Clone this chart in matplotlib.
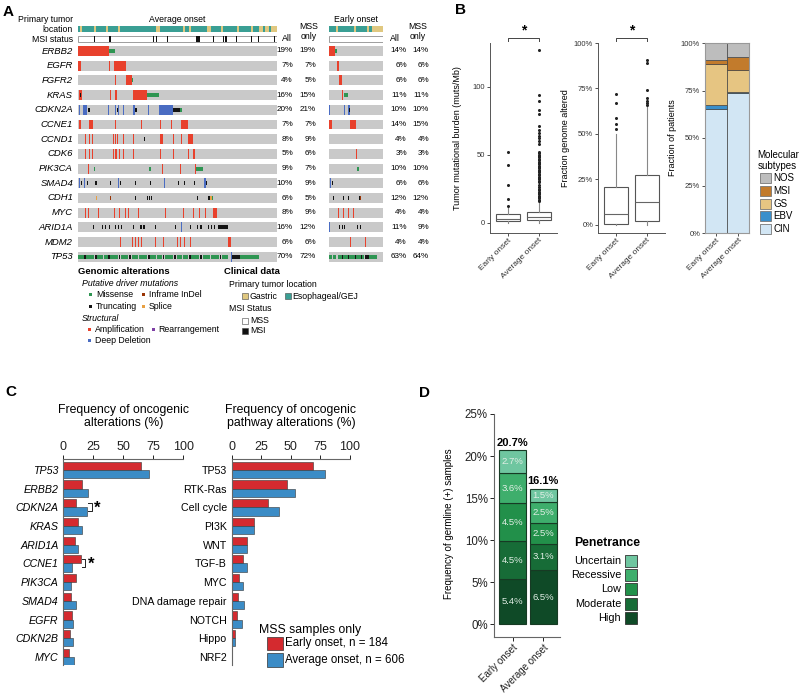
import matplotlib
matplotlib.use('Agg')
import matplotlib.pyplot as plt
from matplotlib.patches import Rectangle
import matplotlib.transforms as mtransforms
import numpy as np

plt.rcParams['font.family'] = ['Liberation Sans', 'DejaVu Sans']

# ---------------- data: panel A (oncoprint, positions in % of cohort) -------------
GENES = ['ERBB2', 'EGFR', 'FGFR2', 'KRAS', 'CDKN2A', 'CCNE1', 'CCND1', 'CDK6',
         'PIK3CA', 'SMAD4', 'CDH1', 'MYC', 'ARID1A', 'MDM2', 'TP53']
AVG_ALL = [19, 7, 4, 16, 20, 7, 8, 5, 9, 10, 6, 8, 16, 6, 70]
AVG_MSS = [19, 7, 5, 15, 21, 7, 9, 6, 7, 9, 5, 9, 12, 6, 72]
EARLY_ALL = [14, 6, 6, 11, 10, 14, 4, 3, 10, 6, 12, 4, 11, 4, 63]
EARLY_MSS = [14, 6, 6, 11, 10, 15, 4, 3, 10, 6, 12, 4, 9, 4, 64]

# E = esophageal/GEJ, G = gastric (one char per 1% of cohort)
LOC_AVG = ("EGEEEEEEGE" "EEEEGEEEEE" "GEEEEEEEEE" "EEEEEEEEEG" "GEEEEEEEEE"
           "EEEGEEGEEE" "EEEEEGGEEE" "EEGEEEEEEE" "GEEEEEEGEE" "EGGEGGEGGG")
LOC_EARLY = "EEEEGEEEEEEEEEGEEEEEEGEEGGGGGG"

MSI_AVG = [(8.2, 0.4), (15.6, 1.0), (35, 0.4), (36.5, 0.4), (37.5, 0.8), (39.2, 0.4),
           (44.7, 0.4), (59.3, 2.0), (67.8, 0.4), (72.7, 0.6), (73.8, 1.0), (75.2, 0.4),
           (79.4, 0.4), (86.8, 0.4), (90.5, 0.4), (94.8, 0.4), (98.5, 0.4)]
MSI_EARLY = [(32.7, 0.8), (62.3, 1.5)]

# (start %, width %, type)  A amp, D deep del, R rearr, M missense, T truncating, I inframe, S splice
AVG_EVENTS = [
    [(0, 15.7, 'A'), (15.7, 2.9, 'M')],
    [(0, 1.3, 'A'), (15.6, 0.5, 'A'), (18.3, 5.7, 'A')],
    [(18.4, 0.5, 'A'), (24, 3.3, 'A'), (27.3, 0.4, 'M')],
    [(0.5, 1.5, 'A'), (1.2, 0.5, 'T'), (16.1, 0.4, 'A'), (18.6, 0.8, 'A'), (24.4, 0.4, 'A'),
     (27.8, 6.8, 'A'), (34.6, 6.2, 'M')],
    [(0.6, 0.5, 'D'), (2.7, 2.0, 'D'), (5.0, 0.8, 'T'), (15.2, 0.5, 'D'), (18.6, 0.6, 'D'),
     (19.6, 0.5, 'T'), (20.3, 0.4, 'D'), (22.8, 0.5, 'D'), (27.8, 0.8, 'D'), (28.8, 0.8, 'T'),
     (35.3, 0.5, 'D'), (40.9, 6.7, 'D'), (47.6, 3.5, 'T'), (51.1, 1.2, 'M')],
    [(0.5, 0.8, 'A'), (5.7, 1.7, 'A'), (18.6, 0.4, 'A'), (31.7, 0.4, 'A'), (41.2, 0.4, 'A'),
     (46.6, 0.4, 'A'), (51.8, 3.3, 'A')],
    [(0.8, 0.4, 'A'), (3.5, 0.4, 'A'), (5.5, 0.4, 'A'), (7.2, 0.4, 'A'), (17.7, 0.4, 'A'),
     (18.6, 0.4, 'A'), (19.6, 0.6, 'A'), (22.8, 0.4, 'A'), (27.8, 0.4, 'A'), (33.3, 0.3, 'T'),
     (41.2, 1.4, 'A'), (47.6, 0.4, 'A'), (51.9, 0.4, 'A'), (55.4, 2.2, 'A')],
    [(0.8, 0.4, 'A'), (3.5, 0.4, 'A'), (5.5, 0.4, 'A'), (7.2, 0.4, 'A'), (17.7, 0.4, 'A'),
     (18.8, 0.6, 'A'), (20.6, 0.4, 'A'), (22.8, 0.4, 'A'), (27.8, 0.4, 'A'), (34.5, 0.4, 'A'),
     (41.2, 0.4, 'A'), (47.9, 0.4, 'A'), (55.4, 0.4, 'A'), (57.6, 1.0, 'A')],
    [(4.9, 0.4, 'A'), (8.2, 0.5, 'M'), (16.5, 0.3, 'T'), (19, 0.3, 'T'), (21.5, 0.3, 'T'),
     (24.5, 0.3, 'T'), (35.7, 0.8, 'M'), (42.4, 0.4, 'A'), (51.3, 0.4, 'A'), (58.8, 0.4, 'A'),
     (59.2, 3.8, 'M')],
    [(0.5, 0.3, 'D'), (1.5, 0.3, 'T'), (3.0, 0.3, 'D'), (4.5, 0.3, 'T'), (8.5, 0.8, 'T'),
     (16.2, 0.3, 'T'), (20.3, 0.5, 'D'), (21.3, 0.5, 'T'), (28.6, 0.3, 'T'), (36.2, 0.3, 'T'),
     (43.4, 0.5, 'D'), (50.5, 0.3, 'T'), (53.5, 0.3, 'T'), (58.3, 0.3, 'T'), (63.5, 0.6, 'D'),
     (64.1, 0.6, 'T')],
    [(9.2, 0.3, 'S'), (16.1, 0.4, 'I'), (24.5, 0.3, 'T'), (28.6, 0.5, 'T'), (34.5, 0.5, 'T'),
     (35.5, 0.5, 'T'), (36.5, 0.5, 'T'), (52.1, 0.3, 'D'), (59.6, 0.5, 'T'), (65.5, 1.0, 'T'),
     (66.5, 0.8, 'S'), (67.3, 0.7, 'M')],
    [(1.8, 0.4, 'A'), (3.5, 0.4, 'A'), (5.2, 0.4, 'A'), (9.9, 0.6, 'A'), (16.9, 0.4, 'A'),
     (18.2, 0.4, 'A'), (19.4, 0.4, 'A'), (20.7, 0.4, 'A'), (21.9, 0.4, 'A'), (23.5, 0.4, 'A'),
     (25.2, 0.4, 'A'), (30.3, 0.4, 'A'), (37, 0.4, 'A'), (43.7, 0.4, 'A'), (52.6, 0.6, 'A'),
     (57.9, 0.4, 'A'), (60.8, 0.4, 'A'), (63.8, 0.4, 'A'), (68, 1.7, 'A')],
    [(4.3, 0.4, 'T'), (7.7, 0.4, 'T'), (11.9, 0.6, 'T'), (13.5, 0.6, 'T'), (15.5, 0.6, 'T'),
     (18.6, 0.5, 'T'), (20, 0.5, 'T'), (21.6, 0.5, 'T'), (24.5, 0.3, 'D'), (27.8, 0.5, 'T'),
     (31.2, 0.8, 'T'), (32.8, 0.8, 'T'), (38.7, 0.4, 'T'), (44.6, 0.3, 'D'), (48.7, 0.4, 'T'),
     (52, 0.3, 'D'), (56.3, 0.4, 'T'), (59.6, 0.8, 'T'), (61.3, 0.8, 'T'), (65.5, 0.5, 'T'),
     (67, 0.5, 'T'), (68.3, 0.5, 'T'), (70.5, 4.7, 'T')],
    [(21.1, 0.4, 'A'), (27.0, 0.4, 'A'), (28.5, 0.4, 'A'), (30.3, 0.6, 'A'), (31.5, 0.5, 'A'),
     (38.7, 0.4, 'A'), (40.5, 0.4, 'A'), (42.6, 0.4, 'A'), (45.0, 0.4, 'A'), (49.6, 0.4, 'A'),
     (51.5, 0.4, 'A'), (53.4, 0.4, 'A'), (56.5, 0.4, 'A'), (75.5, 1.4, 'A')],
    [(0, 3, 'M'), (3, 0.8, 'T'), (4, 4, 'M'), (8.5, 1, 'T'), (9.5, 3, 'M'), (13, 2, 'M'),
     (15, 1, 'T'), (16, 4, 'M'), (20.5, 0.8, 'T'), (21.5, 3.5, 'M'), (25.5, 1.2, 'T'),
     (27, 3, 'M'), (30.5, 4, 'M'), (35, 1, 'T'), (36, 3, 'M'), (39.5, 2.5, 'M'), (42.5, 0.8, 'T'),
     (43.5, 4, 'M'), (48, 1, 'T'), (49.5, 3, 'M'), (53, 2.5, 'M'), (56, 0.7, 'T'), (57, 4, 'M'),
     (61.5, 1, 'T'), (63, 3.5, 'M'), (67, 4, 'M'), (71.5, 0.6, 'T'), (72.5, 3, 'M'),
     (76.9, 0.4, 'D'), (77.2, 4.2, 'T'), (81.4, 9.7, 'M')],
]
EARLY_EVENTS = [
    [(0, 11.1, 'A'), (11.1, 3.1, 'M')],
    [(5, 0.8, 'A'), (14.2, 4.3, 'A')],
    [(19.1, 4.4, 'A')],
    [(5, 0.8, 'A'), (11, 0.8, 'A'), (23.5, 3, 'A'), (27.8, 6.8, 'M')],
    [(0.5, 1, 'D'), (14, 0.8, 'D'), (20, 0.8, 'T'), (28, 1.2, 'D'), (34.6, 4.3, 'D'), (37, 1, 'T')],
    [(0, 4.9, 'A'), (20, 1, 'A'), (38.9, 10.5, 'A')],
    [(5, 1, 'A'), (14, 1, 'A'), (22, 1, 'A'), (29.5, 0.8, 'T'), (49.4, 1.2, 'A')],
    [(14, 1, 'A'), (49.4, 2, 'A')],
    [(5, 0.8, 'T'), (22, 0.8, 'M'), (31, 0.8, 'M'), (49.4, 1, 'A'), (51.2, 4.4, 'M')],
    [(1.8, 1, 'D'), (6, 1, 'T'), (14, 1, 'D'), (25, 1, 'T'), (29.5, 1, 'D')],
    [(8, 1, 'T'), (14, 1, 'T'), (20, 1, 'T'), (26.5, 1, 'T'), (35.7, 1, 'T'), (51.2, 1, 'T'),
     (55.5, 4.5, 'T'), (58, 1.5, 'I')],
    [(17.3, 1, 'A'), (26.5, 1, 'A'), (35.7, 1, 'A'), (45, 1, 'A'), (60.5, 1, 'A')],
    [(0, 1, 'D'), (14, 1, 'T'), (19, 1, 'T'), (24, 1, 'T'), (28, 1, 'T'), (48, 1, 'T'),
     (52, 1, 'T'), (57, 3, 'T')],
    [(14, 1, 'A'), (23.5, 1, 'A'), (29.5, 1, 'A'), (39, 1, 'A'), (66.7, 1, 'A')],
    [(0, 5, 'M'), (5, 1.2, 'T'), (6.5, 7, 'M'), (14, 1.5, 'T'), (16, 8, 'M'), (24.5, 1.2, 'T'),
     (26, 9, 'M'), (35.5, 1.5, 'T'), (37.5, 10, 'M'), (48, 1.5, 'T'), (50, 9, 'M'),
     (59.5, 1.5, 'T'), (61.5, 4, 'M'), (66, 8, 'T'), (74, 14, 'M')],
]

# ---------------- data: panel B ----------------
TMB_EARLY = dict(whislo=0, q1=1.5, med=3.0, q3=6.6, whishi=11)
TMB_EARLY_OUT = [12.5, 17.4, 27.9, 42.6, 51.7]
TMB_AVG = dict(whislo=0, q1=2.3, med=4.7, q3=7.9, whishi=15.5)
TMB_AVG_OUT = [16, 17, 18, 19, 20, 21, 22, 23, 24, 25, 26, 28, 30, 31, 32, 33, 34, 35, 36, 37,
               38, 39, 40, 41, 42, 43, 44, 45, 46, 47, 48, 49, 50, 51, 52, 58, 60, 62, 64,
               66, 68, 71, 80, 83, 89.7, 93.6, 127]
FGA_EARLY = dict(whislo=0, q1=0.007, med=0.057, q3=0.207, whishi=0.50)
FGA_EARLY_OUT = [0.526, 0.557, 0.59, 0.671, 0.717]
FGA_AVG = dict(whislo=0, q1=0.02, med=0.126, q3=0.276, whishi=0.65)
FGA_AVG_OUT = [0.661, 0.67, 0.683, 0.698, 0.74, 0.89, 0.904]
ONSET = ['Early onset', 'Average onset']
SUBTYPES = ['CIN', 'EBV', 'GS', 'MSI', 'NOS']
SUB_EARLY = [0.652, 0.023, 0.217, 0.017, 0.091]
SUB_AVG = [0.738, 0.004, 0.115, 0.070, 0.073]
SUB_COL = {'CIN': '#d2e6f4', 'EBV': '#3a8fcb', 'GS': '#e6c582', 'MSI': '#c27b2c', 'NOS': '#bdbdbd'}

# ---------------- data: panel C ----------------
C_GENES = ['TP53', 'ERBB2', 'CDKN2A', 'KRAS', 'ARID1A', 'CCNE1', 'PIK3CA', 'SMAD4', 'EGFR',
           'CDKN2B', 'MYC']
C_EARLY = [64.5, 15.3, 10.6, 12.0, 9.7, 14.4, 10.3, 6.1, 7.0, 5.3, 4.4]
C_AVG = [71.0, 20.3, 19.7, 15.6, 12.2, 7.2, 6.7, 10.3, 7.8, 8.3, 9.2]
C_SIG = ['CDKN2A', 'CCNE1']
PATHWAYS = ['TP53', 'RTK-Ras', 'Cell cycle', 'PI3K', 'WNT', 'TGF-B', 'MYC',
            'DNA damage repair', 'NOTCH', 'Hippo', 'NRF2']
P_EARLY = [69.0, 46.5, 30.4, 18.9, 12.7, 9.3, 6.2, 5.1, 4.6, 2.5, 0.3]
P_AVG = [78.9, 53.2, 39.7, 18.9, 12.9, 12.9, 9.9, 10.1, 9.0, 2.8, 0.2]

# ---------------- data: panel D ----------------
PENETRANCE = ['High', 'Moderate', 'Low', 'Recessive', 'Uncertain']
D_EARLY = [5.4, 4.5, 4.5, 3.6, 2.7]
D_AVG = [6.5, 3.1, 2.5, 2.5, 1.5]
D_TOTAL = [20.7, 16.1]
PEN_COL = ['#0f4a27', '#176c37', '#22904a', '#3eae6c', '#6fc6a0']

RED, BLUE = '#d42a2f', '#3b8cc6'
ONC_COL = {'A': '#e8412c', 'D': '#4a6cc2', 'R': '#7e3fa5', 'M': '#2e9552',
           'T': '#141414', 'I': '#993404', 'S': '#e8a043'}
LOC_COL = {'E': '#3a9f94', 'G': '#e0c880'}
GRAY = '#c9c9c9'

W, H = 800, 694
fig = plt.figure(figsize=(8, 6.94), dpi=100)


def px_axes(x0, y0, x1, y1):
    ax = fig.add_axes([x0 / W, 1 - y1 / H, (x1 - x0) / W, (y1 - y0) / H])
    ax.patch.set_visible(False)
    return ax


# overlay in pixel units for panel letters and hand-built legends
ov = fig.add_axes([0, 0, 1, 1], zorder=10)
ov.set_xlim(0, W)
ov.set_ylim(H, 0)
ov.axis('off')

for lab, x, y in [('A', 8, 12), ('B', 461, 10), ('C', 11, 392), ('D', 425, 393)]:
    ov.text(x, y, lab, fontsize=11, fontweight='bold', ha='center', va='center')

# ================= panel A =================
ROW0, ROWH = 51, 14.7
PFS = 5.9


def draw_onco(ax, events, loc, msi, title, hall, hmss, first):
    ax.set_xlim(0, 100)
    ax.set_ylim(14.5, -1.8)
    ax.axis('off')
    w = 100 / len(loc)
    ax.barh(-1.48, [w] * len(loc), left=np.arange(len(loc)) * w, height=0.43,
            color=[LOC_COL[c] for c in loc], lw=0)
    ax.barh(-0.80, 100, left=0, height=0.43, color='white', edgecolor='#777', lw=0.5)
    for s, wd in msi:
        ax.barh(-0.80, wd, left=s, height=0.43, color='#111', lw=0)
    for i, ev in enumerate(events):
        ax.barh(i, 100, left=0, height=0.68, color=GRAY, lw=0)
        for s, wd, code in ev:
            h = 0.68 if code in 'ADR' else 0.27
            ax.barh(i, wd, left=s, height=h, color=ONC_COL[code], lw=0)
    ax.text(50, -2.13, title, fontsize=6.3, ha='center', va='center')
    ax.text(hall, -0.82, 'All', fontsize=6.3, ha='center', va='center')
    ax.text(hmss, -1.70, 'MSS', fontsize=6.3, ha='center', va='center')
    ax.text(hmss, -1.0, 'only', fontsize=6.3, ha='center', va='center')
    if first:
        ax.text(-2.5, -2.16, 'Primary tumor', fontsize=6.3, ha='right', va='center')
        ax.text(-2.5, -1.48, 'location', fontsize=6.3, ha='right', va='center')
        ax.text(-2.5, -0.80, 'MSI status', fontsize=6.3, ha='right', va='center')
        for i, g in enumerate(GENES):
            ax.text(-2.5, i, g, fontsize=6.8, style='italic', ha='right', va='center')


ax_avg = px_axes(78, ROW0 - 1.8 * ROWH, 277, ROW0 + 14.5 * ROWH)
draw_onco(ax_avg, AVG_EVENTS, LOC_AVG, MSI_AVG, 'Average onset', 104.9, 115.7, True)
for i in range(len(GENES)):
    ax_avg.text(108, i, f'{AVG_ALL[i]}%', fontsize=PFS, ha='right', va='center')
    ax_avg.text(119.6, i, f'{AVG_MSS[i]}%', fontsize=PFS, ha='right', va='center')

ax_ear = px_axes(329, ROW0 - 1.8 * ROWH, 383, ROW0 + 14.5 * ROWH)
draw_onco(ax_ear, EARLY_EVENTS, LOC_EARLY, MSI_EARLY, 'Early onset', 123, 165, False)
for i in range(len(GENES)):
    ax_ear.text(144.4, i, f'{EARLY_ALL[i]}%', fontsize=PFS, ha='right', va='center')
    ax_ear.text(185.2, i, f'{EARLY_MSS[i]}%', fontsize=PFS, ha='right', va='center')

# legend for A
fs = 6.3
ov.text(78, 271, 'Genomic alterations', fontsize=6.8, fontweight='bold', va='center')
ov.text(82, 283.7, 'Putative driver mutations', fontsize=fs, style='italic', va='center')
ov.text(82, 318.7, 'Structural', fontsize=fs, style='italic', va='center')
ov.text(224, 271, 'Clinical data', fontsize=6.8, fontweight='bold', va='center')
ov.text(229.3, 284, 'Primary tumor location', fontsize=fs, va='center')
ov.text(229.3, 308.7, 'MSI Status', fontsize=fs, va='center')
for x, y, code, lab in [(89.3, 294, 'M', 'Missense'), (142.3, 294, 'I', 'Inframe InDel'),
                        (89.3, 306, 'T', 'Truncating'), (142.3, 306, 'S', 'Splice'),
                        (88.3, 329, 'A', 'Amplification'), (151.7, 329, 'R', 'Rearrangement'),
                        (88.3, 340.7, 'D', 'Deep Deletion')]:
    ov.add_patch(Rectangle((x, y - 1.5), 3, 3, color=ONC_COL[code], lw=0))
    ov.text(x + 6.5, y, lab, fontsize=fs, va='center')
for x, y, col, lab in [(242.3, 296, LOC_COL['G'], 'Gastric'),
                       (285, 296, LOC_COL['E'], 'Esophageal/GEJ'),
                       (242.3, 320.5, 'white', 'MSS'), (242.3, 330.5, '#111', 'MSI')]:
    ov.add_patch(Rectangle((x, y - 3), 6, 6, facecolor=col, edgecolor='#444', lw=0.4))
    ov.text(x + 7.5, y, lab, fontsize=fs, va='center')

# ================= panel B =================
box_kw = dict(positions=[1, 2], widths=0.8, showcaps=False, patch_artist=True,
              boxprops=dict(facecolor='white', edgecolor='#555', lw=0.8),
              whiskerprops=dict(color='#888', lw=0.8),
              medianprops=dict(color='#666', lw=0.8),
              flierprops=dict(marker='o', markersize=2.2, markerfacecolor='#222',
                              markeredgecolor='none'))


def style_b(ax):
    for sp in ['top', 'right']:
        ax.spines[sp].set_visible(False)
    for sp in ['left', 'bottom']:
        ax.spines[sp].set_color('#555')
        ax.spines[sp].set_linewidth(0.7)
    ax.tick_params(axis='y', labelsize=5.5, length=2, width=0.6, pad=1.5, colors='#333')
    ax.tick_params(axis='x', labelsize=6, length=2, width=0.6, pad=1, colors='#333')
    ax.set_xticks([1, 2])
    ax.set_xticklabels(ONSET, rotation=45, ha='right', rotation_mode='anchor')


def sig_bracket(ax):
    tr = mtransforms.blended_transform_factory(ax.transData, ax.transAxes)
    ax.plot([1, 1, 2, 2], [1.012, 1.028, 1.028, 1.012], color='#444', lw=0.7,
            transform=tr, clip_on=False)
    ax.text(1.5, 1.065, '*', fontsize=10, fontweight='bold', ha='center', va='center',
            transform=tr)


axb1 = px_axes(490, 43, 557, 233)
axb1.bxp([dict(TMB_EARLY, fliers=TMB_EARLY_OUT), dict(TMB_AVG, fliers=TMB_AVG_OUT)], **box_kw)
axb1.set_xlim(0.4, 2.6)
axb1.set_ylim(-7.4, 132)
axb1.set_yticks([0, 50, 100])
style_b(axb1)
axb1.set_ylabel('Tumor mutational burden (muts/Mb)', fontsize=6.5)
axb1.yaxis.set_label_coords(-0.42, 0.5)
sig_bracket(axb1)

axb2 = px_axes(598, 43, 665, 233)
axb2.bxp([dict(FGA_EARLY, fliers=FGA_EARLY_OUT), dict(FGA_AVG, fliers=FGA_AVG_OUT)], **box_kw)
axb2.set_xlim(0.4, 2.6)
axb2.set_ylim(-0.045, 1.0)
axb2.set_yticks([0, 0.25, 0.5, 0.75, 1.0])
axb2.set_yticklabels(['0%', '25%', '50%', '75%', '100%'])
style_b(axb2)
axb2.set_ylabel('Fraction genome altered', fontsize=6.5)
axb2.yaxis.set_label_coords(-0.42, 0.5)
sig_bracket(axb2)

axb3 = px_axes(705, 43, 749, 233)
bottoms = np.zeros(2)
for k, st in enumerate(SUBTYPES):
    vals = np.array([SUB_EARLY[k], SUB_AVG[k]])
    axb3.bar([0, 1], vals, bottom=bottoms, width=1.0, color=SUB_COL[st],
             edgecolor='#444', lw=0.5)
    bottoms += vals
axb3.set_xlim(-0.5, 1.5)
axb3.set_ylim(0, 1)
for sp in axb3.spines.values():
    sp.set_color('#999')
    sp.set_linewidth(0.8)
axb3.set_yticks([0, 0.25, 0.5, 0.75, 1.0])
axb3.set_yticklabels(['0%', '25%', '50%', '75%', '100%'])
axb3.tick_params(axis='y', labelsize=5.5, length=2, width=0.6, pad=1.5, colors='#333')
axb3.tick_params(axis='x', labelsize=6, length=2, width=0.6, pad=1, colors='#333')
axb3.set_xticks([0, 1])
axb3.set_xticklabels(ONSET, rotation=45, ha='right', rotation_mode='anchor')
axb3.set_ylabel('Fraction of patients', fontsize=6.5)
axb3.yaxis.set_label_coords(-0.64, 0.5)

ov.text(757.7, 155, 'Molecular', fontsize=7, va='center')
ov.text(757.7, 166, 'subtypes', fontsize=7, va='center')
for k, st in enumerate(['NOS', 'MSI', 'GS', 'EBV', 'CIN']):
    y = 178.3 + k * 12.6
    ov.add_patch(Rectangle((760, y - 5), 10.7, 10, facecolor=SUB_COL[st],
                           edgecolor='#777', lw=0.6))
    ov.text(773, y, st, fontsize=7, va='center')

# ================= panel C =================


def style_c(ax, labels, italic):
    ax.set_xlim(0, 100)
    ax.set_ylim(10.43, -0.59)
    ax.xaxis.tick_top()
    ax.set_xticks([0, 25, 50, 75, 100])
    for sp in ['bottom', 'right']:
        ax.spines[sp].set_visible(False)
    for sp in ['top', 'left']:
        ax.spines[sp].set_color('#666')
        ax.spines[sp].set_linewidth(0.8)
    ax.tick_params(axis='x', labelsize=9, length=3, width=0.7, pad=1.5, colors='#222')
    ax.tick_params(axis='y', labelsize=7.7, length=0, pad=3.5)
    ax.set_yticks(range(len(labels)))
    ax.set_yticklabels(labels, style='italic' if italic else 'normal')


yy = np.arange(len(C_GENES))
axc1 = px_axes(63.3, 459, 183.3, 665)
axc1.barh(yy - 0.22, C_EARLY, height=0.44, color=RED, edgecolor='#333', lw=0.4)
axc1.barh(yy + 0.22, C_AVG, height=0.44, color=BLUE, edgecolor='#333', lw=0.4)
style_c(axc1, C_GENES, True)
axc1.text(50, 1.205, 'Frequency of oncogenic\nalterations (%)', transform=mtransforms.
          blended_transform_factory(axc1.transData, axc1.transAxes),
          fontsize=8.8, ha='center', va='center', linespacing=1.15)
for g in C_SIG:
    k = C_GENES.index(g)
    x0 = max(C_EARLY[k], C_AVG[k]) + 1
    axc1.plot([x0, x0 + 2.8, x0 + 2.8, x0], [k - 0.24, k - 0.24, k + 0.2, k + 0.2],
              color='#222', lw=0.7, clip_on=False)
    axc1.text(x0 + 7.5, k + 0.05, '*', fontsize=12, fontweight='bold', ha='center', va='center')

axc2 = px_axes(231.7, 459, 350, 665)
axc2.barh(yy - 0.22, P_EARLY, height=0.44, color=RED, edgecolor='#333', lw=0.4)
axc2.barh(yy + 0.22, P_AVG, height=0.44, color=BLUE, edgecolor='#333', lw=0.4)
style_c(axc2, PATHWAYS, False)
axc2.text(50, 1.205, 'Frequency of oncogenic\npathway alterations (%)', transform=mtransforms.
          blended_transform_factory(axc2.transData, axc2.transAxes),
          fontsize=8.8, ha='center', va='center', linespacing=1.15)

ov.text(259, 630, 'MSS samples only', fontsize=8.8, va='center')
for y, col, lab in [(643.3, RED, 'Early onset, n = 184'), (660, BLUE, 'Average onset, n = 606')]:
    ov.add_patch(Rectangle((266.7, y - 6.7), 16.6, 13.4, facecolor=col, edgecolor='#333', lw=0.5))
    ov.text(285, y, lab, fontsize=8.3, va='center')

# ================= panel D =================
axd = px_axes(494, 414, 560, 637)
bottoms = np.zeros(2)
for k, pen in enumerate(PENETRANCE):
    vals = np.array([D_EARLY[k], D_AVG[k]])
    axd.bar([0, 1], vals, bottom=bottoms, width=0.885, color=PEN_COL[k],
            edgecolor='#173a24', lw=0.8)
    for j in range(2):
        axd.text(j, bottoms[j] + vals[j] / 2, f'{vals[j]}%', fontsize=6.8, color='#e2efe6',
                 ha='center', va='center')
    bottoms += vals
for j in range(2):
    axd.text(j, D_TOTAL[j] + 0.3, f'{D_TOTAL[j]}%', fontsize=8, fontweight='bold',
             ha='center', va='bottom')
axd.set_xlim(-0.607, 1.557)
axd.set_ylim(-1.5, 25)
axd.set_yticks([0, 5, 10, 15, 20, 25])
axd.set_yticklabels(['0%', '5%', '10%', '15%', '20%', '25%'])
for sp in ['top', 'right']:
    axd.spines[sp].set_visible(False)
for sp in ['left', 'bottom']:
    axd.spines[sp].set_color('#666')
    axd.spines[sp].set_linewidth(0.8)
axd.tick_params(axis='y', labelsize=8.3, length=3, width=0.7, pad=1.5, colors='#222')
axd.tick_params(axis='x', labelsize=7, length=3, width=0.7, pad=1, colors='#222')
axd.set_xticks([0, 1])
axd.set_xticklabels(ONSET, rotation=45, ha='right', rotation_mode='anchor')
axd.set_ylabel('Frequency of germline (+) samples', fontsize=7)
axd.yaxis.set_label_coords(-0.6, 0.51)

ov.text(574.3, 543, 'Penetrance', fontsize=8.8, fontweight='bold', va='center')
for k, pen in enumerate(PENETRANCE[::-1]):
    y = 561 + k * 14.2
    ov.add_patch(Rectangle((625, y - 6), 11.7, 12, facecolor=PEN_COL[::-1][k],
                           edgecolor='#333', lw=0.6))
    ov.text(621, y, pen, fontsize=7.8, ha='right', va='center')

fig.savefig('out.png', dpi=100)
